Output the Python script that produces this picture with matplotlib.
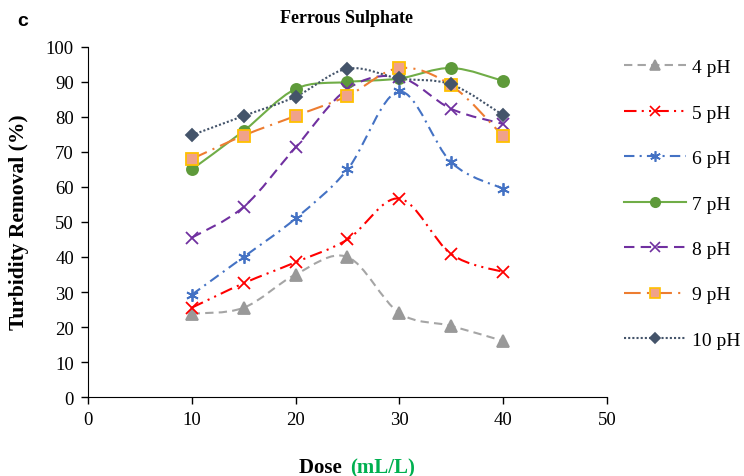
import numpy as np
import matplotlib.pyplot as plt
from matplotlib.path import Path
from matplotlib.patches import PathPatch
from matplotlib.lines import Line2D

dose = [10, 15, 20, 25, 30, 35, 40]
ph4 = [23.8, 25.5, 35.0, 40.0, 24.0, 20.3, 16.0]
ph5 = [25.5, 32.5, 38.5, 45.0, 56.7, 40.8, 35.7]
ph6 = [29.2, 40.0, 51.0, 65.0, 87.3, 67.0, 59.5]
ph7 = [65.0, 76.0, 88.0, 90.0, 91.0, 94.0, 90.3]
ph8 = [45.5, 54.3, 71.3, 88.0, 91.4, 82.3, 78.0]
ph9 = [68.0, 74.7, 80.3, 86.0, 94.0, 89.0, 74.5]
ph10 = [74.8, 80.3, 85.8, 93.8, 91.0, 89.3, 80.5]
labels = ["4 pH", "5 pH", "6 pH", "7 pH", "8 pH", "9 pH", "10 pH"]

plt.rcParams['font.family'] = ['Liberation Serif', 'DejaVu Serif']

styles = [
    dict(color='#A5A5A5', ls=(0, (4, 2.5)), marker='^', mfc='#999999', mec='#999999', ms=8),
    dict(color='#FF0000', ls=(0, (6, 2.5, 1, 2.5, 1, 2.5)), marker='x', mfc='none', mec='#FF0000', ms=8),
    dict(color='#4472C4', ls=(0, (5, 2.5, 1, 2.5)), marker=(6, 2, 0), mfc='none', mec='#4472C4', ms=9),
    dict(color='#70AD47', ls='-', marker='o', mfc='#5E9A3A', mec='#5E9A3A', ms=8),
    dict(color='#7030A0', ls=(0, (5, 3)), marker='x', mfc='none', mec='#7030A0', ms=9),
    dict(color='#ED7D31', ls=(0, (8, 3, 1, 3)), marker='s', mfc='#F0A28A', mec='#FFC000', ms=8),
    dict(color='#44546A', ls=(0, (1, 1)), marker='D', mfc='#44546A', mec='#44546A', ms=6.5),
]
series = [ph4, ph5, ph6, ph7, ph8, ph9, ph10]


def smooth_path(x, y):
    # Bezier curve through the points, like Excel's smoothed line
    p = np.column_stack([x, y]).astype(float)
    n = len(p)
    verts = [p[0]]
    codes = [Path.MOVETO]
    for i in range(n - 1):
        p0 = p[i - 1] if i > 0 else p[i]
        p3 = p[i + 2] if i + 2 < n else p[i + 1]
        c1 = p[i] + (p[i + 1] - p0) / 6
        c2 = p[i + 1] - (p3 - p[i]) / 6
        verts += [c1, c2, p[i + 1]]
        codes += [Path.CURVE4] * 3
    return Path(verts, codes)


fig = plt.figure(figsize=(7.44, 4.77), dpi=100)
ax = fig.add_axes([0.118, 0.1656, 0.698, 0.7338])

handles = []
for y, st in zip(series, styles):
    patch = PathPatch(smooth_path(dose, y), facecolor='none', edgecolor=st['color'],
                      lw=1.5, linestyle=st['ls'], zorder=2)
    ax.add_patch(patch)
    ax.plot(dose, y, linestyle='none', marker=st['marker'], ms=st['ms'],
            mfc=st['mfc'], mec=st['mec'], mew=1.3, zorder=3)
    handles.append(Line2D([], [], color=st['color'], lw=1.5, linestyle=st['ls'],
                          marker=st['marker'], ms=st['ms'] * 0.85, mfc=st['mfc'],
                          mec=st['mec'], mew=1.2))

ax.set_xlim(0, 50)
ax.set_ylim(0, 100)
ax.set_xticks(range(0, 51, 10))
ax.set_yticks(range(0, 101, 10))
ax.spines['top'].set_visible(False)
ax.spines['right'].set_visible(False)
ax.tick_params(labelsize=13.5, length=5, width=1, direction='out', pad=5)

ax.legend(handles, labels, loc='upper left', bbox_to_anchor=(1.01, 1.0),
          frameon=False, fontsize=14, handlelength=3.2, labelspacing=1.43,
          handletextpad=0.3, borderaxespad=0.2)

fig.text(0.466, 0.962, "Ferrous Sulphate", ha='center', va='center',
         fontsize=13, fontweight='bold')
fig.text(0.03, 0.955, "c", ha='center', va='center', fontsize=14,
         fontweight='bold', family='Liberation Sans')
fig.text(0.025, 0.535, "Turbidity Removal (%)", rotation=90, ha='center',
         va='center', fontsize=15.5, fontweight='bold')
fig.text(0.466, 0.018, "Dose ", ha='right', va='center', fontsize=15, fontweight='bold')
fig.text(0.47, 0.018, "(mL/L)", ha='left', va='center', fontsize=15,
         fontweight='bold', color='#00B050')

plt.savefig('out.png', dpi=100)
